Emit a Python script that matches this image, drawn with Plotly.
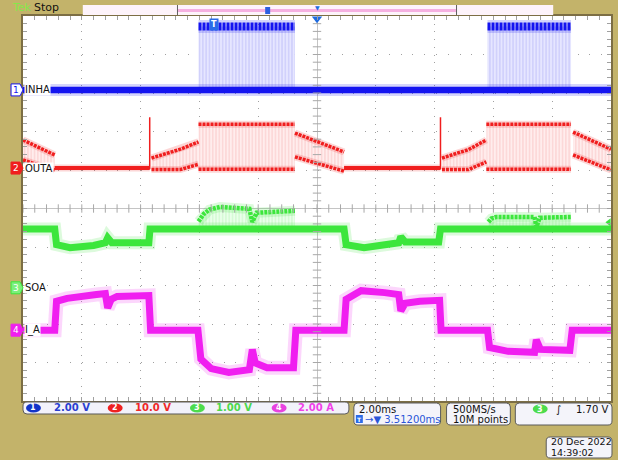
import numpy as np
import plotly.graph_objects as go

# ---------------- data ----------------
# time in ms relative to screen centre (2 ms/div, 10 divisions)
ch_names = ["INHA", "OUTA", "SOA", "I_A"]
ch_scale = [2.0, 10.0, 1.0, 2.0]           # units / division
ch_scale_text = ["2.00 V", "10.0 V", "1.00 V", "2.00 A"]

# CH1 INHA (V)
inha_low, inha_high = 0.0, 3.3
inha_burst_t0 = [-4.03, 5.80]
inha_burst_t1 = [-0.75, 8.64]

# CH2 OUTA (V)
outa_idle_t0 = [-8.92, 0.92]
outa_idle_t1 = [-5.69, 4.20]
outa_spike_t = [-5.69, 4.20]
outa_spike_lo = [-0.3, -0.3]
outa_spike_hi = [13.2, 13.2]
outa_seg_t = [[-10.0, -8.92], [-5.63, -4.65, -4.03], [-4.03, -0.75], [-0.75, 0.92],
              [4.25, 5.15, 5.76], [5.76, 8.64], [8.71, 10.0]]
outa_seg_hi = [[7.3, 3.4], [2.6, 4.9, 6.8], [11.4, 11.4], [9.1, 4.2],
               [2.6, 4.8, 7.3], [11.4, 11.4], [9.35, 4.9]]
outa_seg_lo = [[2.1, -0.5], [-0.4, -0.4, 1.0], [-0.3, -0.3], [2.9, -0.8],
               [-0.4, -0.4, 1.6], [-0.3, -0.3], [3.4, -0.5]]

# CH3 SOA (V)
soa_t = [-10.0, -8.92, -8.86, -8.40, -7.60, -7.20, -7.12, -6.98, -5.72, -5.68,
         0.92, 0.99, 1.60, 2.50, 2.78, 2.85, 3.00, 4.14, 4.20, 10.0]
soa_v = [1.53, 1.53, 1.12, 1.04, 1.10, 1.17, 1.30, 1.17, 1.17, 1.53,
         1.53, 1.12, 1.04, 1.12, 1.17, 1.33, 1.19, 1.19, 1.53, 1.53]
soa_pwm_t = [[-4.03, -3.85, -3.66, -3.30, -2.30, -2.20, -2.05, -0.75],
             [5.83, 5.93, 6.10, 7.40, 7.46, 7.58, 8.64]]
soa_pwm_hi = [[1.72, 1.92, 2.03, 2.10, 2.05, 1.71, 1.95, 2.00],
              [1.71, 1.80, 1.84, 1.84, 1.58, 1.82, 1.84]]
soa_pwm_lo = 1.50

# CH4 I_A (A)
ia_t = [-10.0, -8.92, -8.86, -8.50, -7.50, -7.20, -7.12, -7.00, -6.80, -5.72, -5.66,
        -4.05, -3.95, -3.60, -3.00, -2.30, -2.20, -2.10, -1.70, -0.80, -0.72,
        0.92, 0.99, 1.50, 2.30, 2.78, 2.85, 3.00, 3.50, 4.17, 4.22,
        5.80, 5.87, 6.50, 7.40, 7.46, 7.60, 8.60, 8.68, 10.0]
ia_v = [0.0, 0.0, 1.50, 1.65, 1.85, 1.90, 1.15, 1.60, 1.75, 1.80, 0.0,
        0.0, -1.50, -2.00, -2.20, -2.05, -1.00, -1.70, -1.95, -1.95, 0.0,
        0.0, 1.60, 2.05, 1.95, 1.85, 1.00, 1.40, 1.50, 1.55, 0.0,
        0.0, -0.90, -1.10, -1.15, -0.50, -1.00, -1.05, 0.0, 0.0]

trigger_pos_ms = -3.512
trigger_level_v = 1.70

# ---------------- style ----------------
CH_POS = [3.08, 1.05, -2.06, -3.16]        # ground marker position (div)
CH_COL = ["#1414F0", "#F01E1E", "#3CE63C", "#F01EF0"]
KHAKI = "#C3B36A"
W, H = 618, 460
PL, PR, PT, PB = 23, 613, 16, 401
FONT = "DejaVu Sans"


def dv(ch, v):
    return CH_POS[ch] + np.asarray(v, dtype=float) / ch_scale[ch]


def pxx(px):
    return (px - PL) / (PR - PL)


def pxy(py):
    return (PB - py) / (PB - PT)


def rgba(hexc, a):
    h = hexc.lstrip("#")
    return "rgba(%d,%d,%d,%.3f)" % (int(h[0:2], 16), int(h[2:4], 16), int(h[4:6], 16), a)


fig = go.Figure()


def band(t, hi, lo, fill, stripe):
    x = list(t) + list(t)[::-1]
    y = list(hi) + list(lo)[::-1]
    fig.add_trace(go.Scatter(x=x, y=y, mode="lines", fill="toself", fillcolor=fill,
                             line=dict(width=0, color="rgba(0,0,0,0)"),
                             fillpattern=dict(shape="|", size=3.3, solidity=0.35,
                                              fgcolor=stripe, bgcolor=fill),
                             hoverinfo="skip"))


def line(t, y, col, w, glow, dash="solid", ga=0.18):
    if glow:
        fig.add_trace(go.Scatter(x=t, y=y, mode="lines",
                                 line=dict(color=rgba(col, ga), width=glow), hoverinfo="skip"))
    fig.add_trace(go.Scatter(x=t, y=y, mode="lines",
                             line=dict(color=col, width=w, dash=dash), hoverinfo="skip"))


# --- switching bands (fills) ---
for t0, t1 in zip(inha_burst_t0, inha_burst_t1):
    band([t0, t1], dv(0, [inha_high] * 2), dv(0, [inha_low] * 2), "#E6E6FF", "#A9A9F5")
for t, hi, lo in zip(outa_seg_t, outa_seg_hi, outa_seg_lo):
    band(t, dv(1, hi), dv(1, lo), "#FFEDED", "#F7B4B4")
for t, hi in zip(soa_pwm_t, soa_pwm_hi):
    band(t, dv(2, hi), dv(2, [soa_pwm_lo] * len(t)), "#EAFFEA", "#B4F2B4")

# --- CH1 ---
line([-10, 10], dv(0, [inha_low, inha_low]), CH_COL[0], 6.5, 12)
for t0, t1 in zip(inha_burst_t0, inha_burst_t1):
    line([t0, t1], dv(0, [inha_high] * 2), CH_COL[0], 8, 13, dash="3px,1px")

# --- CH2 ---
for t0, t1 in zip(outa_idle_t0, outa_idle_t1):
    line([t0, t1], dv(1, [0, 0]), CH_COL[1], 4, 7)
for t, lo, hi in zip(outa_spike_t, outa_spike_lo, outa_spike_hi):
    line([t, t], dv(1, [lo, hi]), CH_COL[1], 1.5, 0)
for t, hi, lo in zip(outa_seg_t, outa_seg_hi, outa_seg_lo):
    line(t, dv(1, hi), CH_COL[1], 3.5, 7, dash="3px,1px")
    line(t, dv(1, lo), CH_COL[1], 3.5, 7, dash="3px,1px")

# --- CH3 ---
line(soa_t, dv(2, soa_v), CH_COL[2], 7, 13)
for t, hi in zip(soa_pwm_t, soa_pwm_hi):
    line(t, dv(2, hi), CH_COL[2], 4.5, 10, dash="3px,1px")

# --- CH4 ---
line(ia_t, dv(3, ia_v), CH_COL[3], 7, 14)

# --- graticule centre ticks ---
gx = np.arange(-10, 10.001, 0.4)
gy = np.arange(-5, 5.001, 0.2)
fig.add_trace(go.Scatter(x=gx, y=np.zeros_like(gx), mode="markers",
                         marker=dict(symbol="line-ns", size=6, line=dict(color="#A8A8A8", width=1)),
                         hoverinfo="skip"))
fig.add_trace(go.Scatter(x=np.zeros_like(gy), y=gy, mode="markers",
                         marker=dict(symbol="line-ew", size=6, line=dict(color="#A8A8A8", width=1)),
                         hoverinfo="skip"))

# trigger level marker (right edge) and expansion marker (top)
fig.add_trace(go.Scatter(x=[9.93], y=[dv(2, trigger_level_v)], mode="markers", cliponaxis=False,
                         marker=dict(symbol="triangle-left", size=7, color=CH_COL[2]), hoverinfo="skip"))
fig.add_trace(go.Scatter(x=[0], y=[4.93], mode="markers", cliponaxis=False,
                         marker=dict(symbol="triangle-down", size=9, color="#1E6BE0"), hoverinfo="skip"))

shapes = []
ann = []


def txt(x, y, s, col="#111111", size=10, anchor="left", **kw):
    d = dict(xref="paper", yref="paper", x=pxx(x), y=pxy(y), text=s, showarrow=False,
             xanchor=anchor, yanchor="middle", font=dict(size=size, color=col, family=FONT))
    d.update(kw)
    ann.append(d)


# top record bar
shapes.append(dict(type="rect", xref="paper", yref="paper", x0=pxx(83), x1=pxx(555),
                   y0=pxy(15), y1=pxy(5), fillcolor="#FDF3FA", line=dict(width=0), layer="above"))
shapes.append(dict(type="line", xref="paper", yref="paper", x0=pxx(178), x1=pxx(458),
                   y0=pxy(10.5), y1=pxy(10.5), line=dict(color="#F5B0E0", width=3)))
for xp in (178, 458):
    shapes.append(dict(type="line", xref="paper", yref="paper", x0=pxx(xp), x1=pxx(xp),
                       y0=pxy(15), y1=pxy(5), line=dict(color="#606060", width=1)))
shapes.append(dict(type="rect", xref="paper", yref="paper", x0=pxx(266), x1=pxx(271),
                   y0=pxy(14), y1=pxy(7), fillcolor="#2C5FE0", line=dict(width=0)))
txt(318.5, 7.5, "▼", "#1E6BE0", 6, "center")
txt(10, 8, "Tek", "#86E84A", 11)
txt(32, 8, "Stop", "#111111", 11)

# trigger position "T"
ann.append(dict(x=trigger_pos_ms, xref="x", yref="paper", y=pxy(24), text="<b>T</b>", showarrow=False,
                xanchor="center", yanchor="middle",
                font=dict(size=8, color="white", family=FONT), bgcolor="#2A6BE8", borderpad=1))

# channel ground markers and labels
badge_fill = ["white", CH_COL[1], "#7CF07C", CH_COL[3]]
badge_txt = [CH_COL[0], "white", "white", "white"]
for i in range(4):
    yc = 208.5 - CH_POS[i] * 38.5
    pts = [(11, yc - 6), (20, yc - 6), (23, yc), (20, yc + 6), (11, yc + 6)]
    path = "M " + " L ".join("%f,%f" % (pxx(a), pxy(b)) for a, b in pts) + " Z"
    shapes.append(dict(type="path", xref="paper", yref="paper", path=path,
                       fillcolor=badge_fill[i], line=dict(color=CH_COL[i], width=1)))
    txt(15.8, yc, str(i + 1), badge_txt[i], 9, "center")
    txt(24, yc, ch_names[i], "#111111", 10, "left", bgcolor="white", borderpad=0)


def rrect(x0, y0, x1, y1, r, fill, lc="#5A5A5A"):
    P = lambda a, b: "%f,%f" % (pxx(a), pxy(b))
    path = ("M " + P(x0 + r, y0) + " L " + P(x1 - r, y0) + " Q " + P(x1, y0) + " " + P(x1, y0 + r) +
            " L " + P(x1, y1 - r) + " Q " + P(x1, y1) + " " + P(x1 - r, y1) +
            " L " + P(x0 + r, y1) + " Q " + P(x0, y1) + " " + P(x0, y1 - r) +
            " L " + P(x0, y0 + r) + " Q " + P(x0, y0) + " " + P(x0 + r, y0) + " Z")
    shapes.append(dict(type="path", xref="paper", yref="paper", path=path,
                       fillcolor=fill, line=dict(color=lc, width=1)))


def badge(xc, yc, n, col):
    shapes.append(dict(type="circle", xref="paper", yref="paper", x0=pxx(xc - 7.5), x1=pxx(xc + 7.5),
                       y0=pxy(yc + 4.5), y1=pxy(yc - 4.5), fillcolor=col, line=dict(width=0)))
    txt(xc, yc, "<b>%s</b>" % n, "white", 8, "center")


rrect(23, 402, 350, 414, 4, "#F2F2FA")
rrect(355, 403, 442, 425, 4, "#F4F4FA")
rrect(448, 403, 512, 425, 4, "#F4F4FA")
rrect(517, 403, 614, 425, 4, "#F4F4FA")
rrect(548, 437, 614, 458, 4, "#F4F4FA")

badge_cols = ["#1234C8", "#EE2020", "#4CDC4C", "#E842E0"]
text_cols = ["#2A3FD0", "#F02828", "#4CD84C", "#F040E8"]
for xc, xt, i in zip([33.5, 115.5, 198, 280], [52, 133, 215, 297], range(4)):
    badge(xc, 408, i + 1, badge_cols[i])
    txt(xt, 408, "<b>%s</b>" % ch_scale_text[i], text_cols[i], 10)

txt(358, 409, "2.00ms")
shapes.append(dict(type="rect", xref="paper", yref="paper", x0=pxx(357), x1=pxx(364),
                   y0=pxy(423), y1=pxy(415), fillcolor="#2A6BE8", line=dict(width=0)))
txt(360.5, 419, "<b>T</b>", "white", 6, "center")
txt(364, 419, "→▼ 3.51200ms", "#2A55D8", 10)
txt(452, 409, "500MS/s")
txt(452, 419, "10M points")
badge(542, 409, 3, "#4CDC4C")
txt(560, 409, "∫", "#111111", 10, "center")
txt(612, 409, "1.70 V", "#111111", 10, "right")
txt(551, 442, "20 Dec 2022", "#111111", 9.5)
txt(551, 452, "14:39:02", "#111111", 9.5)

fig.update_layout(
    width=W, height=H, showlegend=False,
    margin=dict(l=PL, r=W - PR, t=PT, b=H - PB, pad=0),
    paper_bgcolor=KHAKI, plot_bgcolor="white",
    shapes=shapes, annotations=ann,
    xaxis=dict(range=[-10, 10], dtick=2, showgrid=True, gridcolor="#A0A0A0", gridwidth=1,
               griddash="1px,6.7px", zeroline=True, zerolinecolor="#C4C4C4", zerolinewidth=1,
               showline=True, linecolor="#7C6E44", linewidth=1.5, mirror="ticks",
               ticks="inside", ticklen=4, tickcolor="#A0A0A0", showticklabels=False,
               minor=dict(dtick=0.4, ticks="inside", ticklen=4, tickcolor="#A0A0A0", showgrid=False),
               fixedrange=True),
    yaxis=dict(range=[-5, 5], dtick=1, showgrid=True, gridcolor="#A0A0A0", gridwidth=1,
               griddash="1px,10.8px", zeroline=True, zerolinecolor="#C4C4C4", zerolinewidth=1,
               showline=True, linecolor="#7C6E44", linewidth=1.5, mirror="ticks",
               ticks="inside", ticklen=4, tickcolor="#A0A0A0", showticklabels=False,
               minor=dict(dtick=0.2, ticks="inside", ticklen=4, tickcolor="#A0A0A0", showgrid=False),
               fixedrange=True),
)

fig.write_html("out.html", config={"displayModeBar": False},
               post_script="document.body.style.margin='0px';document.body.style.overflow='hidden';")
